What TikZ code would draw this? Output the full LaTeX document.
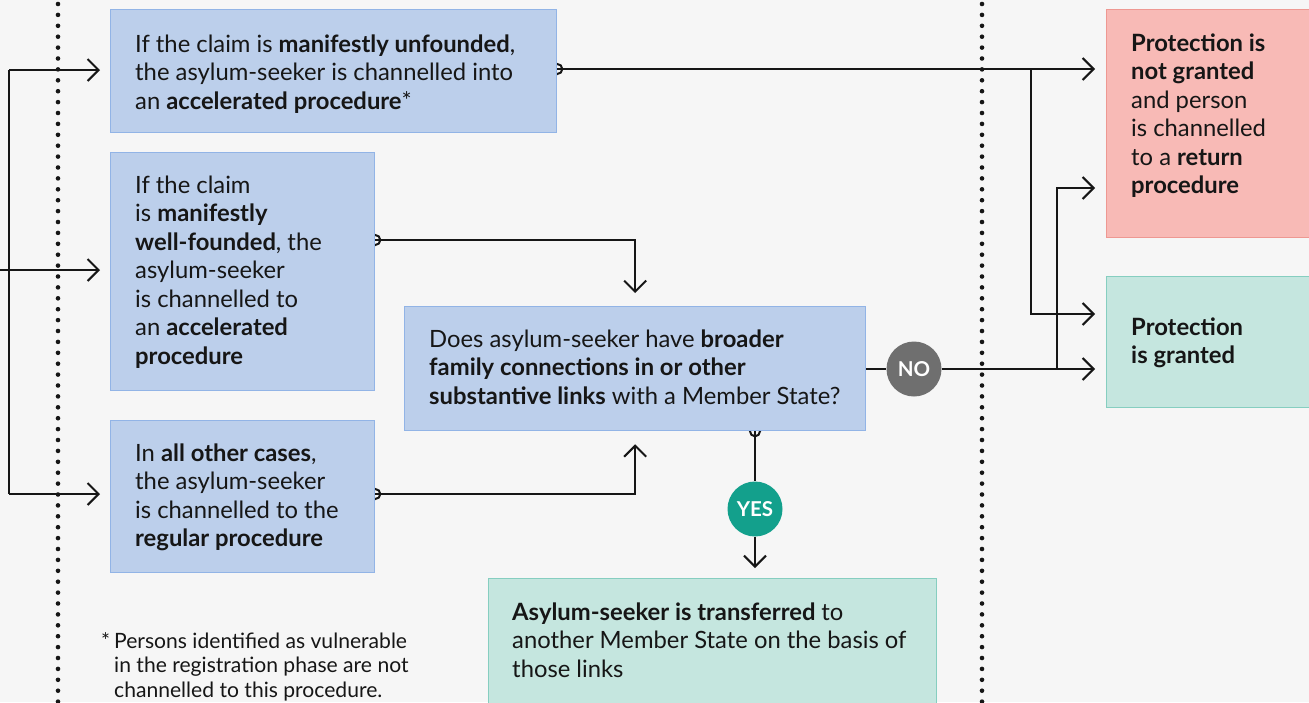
\documentclass[tikz,border=0pt]{standalone}
\usepackage{fontspec}
\setmainfont{Lato}
\usetikzlibrary{arrows.meta,calc}
\definecolor{bgc}{HTML}{F6F6F6}
\definecolor{ink}{HTML}{161616}
\definecolor{bluefill}{HTML}{BCCFEB}
\definecolor{blueline}{HTML}{92B4E6}
\definecolor{greenfill}{HTML}{C5E6DF}
\definecolor{greenline}{HTML}{86CEC0}
\definecolor{pinkfill}{HTML}{F8BAB6}
\definecolor{pinkline}{HTML}{EE9892}
\definecolor{nogray}{HTML}{6F6F6F}
\definecolor{yesteal}{HTML}{13A08C}
\pgfdeclarelayer{back}
\pgfdeclarelayer{under}
\pgfsetlayers{back,under,main}
\newcommand\ML[1]{\vtop{\baselineskip=28.5pt\lineskiplimit=-30pt\lineskip=0pt #1}}
\newcommand\MLs[1]{\vtop{\baselineskip=24.5pt\lineskiplimit=-30pt\lineskip=0pt #1}}
\tikzset{
  boxbase/.style={anchor=north west, inner sep=0pt, line width=1.3pt},
  bluebox/.style={boxbase, draw=blueline, fill=bluefill},
  greenbox/.style={boxbase, draw=greenline, fill=greenfill},
  pinkbox/.style={boxbase, draw=pinkline, fill=pinkfill},
  txt/.style={anchor=base west, inner sep=0pt, text=ink, font=\fontsize{23.8}{28.5}\selectfont},
  smalltxt/.style={anchor=base west, inner sep=0pt, text=ink, font=\fontsize{21.1}{24.5}\selectfont},
  conn/.style={line width=2pt, draw=ink},
  arr/.style={conn, -{Straight Barb[length=11pt,width=22pt]}},
  badge/.style={circle, minimum size=55pt, inner sep=0pt, text=white, font=\bfseries\fontsize{20.5}{20.5}\selectfont},
  dotline/.style={line width=4.6pt, draw=ink, dash pattern=on 0pt off 10.9pt, line cap=round},
}
\begin{document}
\begin{tikzpicture}[x=1pt,y=-1pt]
\useasboundingbox (0,0) rectangle (1309,702);
\clip (0,0) rectangle (1309,702);
\begin{pgfonlayer}{back}
\fill[bgc] (0,0) rectangle (1309,702);
\end{pgfonlayer}
% dotted separators
\coordinate (d1t) at (58,4);
\coordinate (d1b) at (58,702);
\coordinate (d2t) at (982,4);
\coordinate (d2b) at (982,702);
\draw[dotline] (d1t) -- (d1b);
\draw[dotline] (d2t) -- (d2b);
% boxes
\node[bluebox, minimum width=446pt, minimum height=123pt] (A) at (110,9) {};
\node[bluebox, minimum width=264pt, minimum height=238pt] (B) at (110,152) {};
\node[bluebox, minimum width=264pt, minimum height=152pt] (C) at (110,420) {};
\node[bluebox, minimum width=461pt, minimum height=124pt] (D) at (404,306) {};
\node[greenbox, minimum width=448pt, minimum height=140pt] (E) at (488,578) {};
\node[pinkbox, minimum width=230pt, minimum height=228pt] (F) at (1106,9) {};
\node[greenbox, minimum width=230pt, minimum height=131pt] (G) at (1106,276) {};
% texts
\node[txt] (tA) at (135,52) {\ML{\hbox{If the claim is \textbf{manifestly unfounded},}\hbox{the asylum-seeker is channelled into}\hbox{an \textbf{accelerated procedure}*}}};
\node[txt] (tB) at (135,193) {\ML{\hbox{If the claim}\hbox{is \textbf{manifestly}}\hbox{\textbf{well-founded}, the}\hbox{asylum-seeker}\hbox{is channelled to}\hbox{an \textbf{accelerated}}\hbox{\textbf{procedure}}}};
\node[txt] (tC) at (135,461) {\ML{\hbox{In \textbf{all other cases},}\hbox{the asylum-seeker}\hbox{is channelled to the}\hbox{\textbf{regular procedure}}}};
\node[txt] (tD) at (429,347) {\ML{\hbox{Does asylum-seeker have \textbf{broader}}\hbox{\textbf{family connections in or other}}\hbox{\textbf{substantive links} with a Member State?}}};
\node[txt] (tE) at (512,620) {\ML{\hbox{\textbf{Asylum-seeker is transferred} to}\hbox{another Member State on the basis of}\hbox{those links}}};
\node[txt] (tF) at (1131,51) {\ML{\hbox{\textbf{Protection is}}\hbox{\textbf{not granted}}\hbox{and person}\hbox{is channelled}\hbox{to a \textbf{return}}\hbox{\textbf{procedure}}}};
\node[txt] (tG) at (1131,335) {\ML{\hbox{\textbf{Protection}}\hbox{\textbf{is granted}}}};
\node[smalltxt] (fn) at (114,648) {\MLs{\hbox{\llap{*\hspace{4pt}}Persons identified as vulnerable}\hbox{in the registration phase are not}\hbox{channelled to this procedure.}}};
% tails (half circles at box edges)
\begin{pgfonlayer}{under}
\draw[conn] (A.east |- 0,69) circle[radius=5pt];
\draw[conn] (B.east |- 0,240) circle[radius=5pt];
\draw[conn] (C.east |- 0,494) circle[radius=5pt];
\draw[conn] (D.south -| 755,0) circle[radius=5pt];
\end{pgfonlayer}
% left input
\coordinate (in) at (0,270);
\coordinate (j1) at (9,70);
\coordinate (j2) at (9,494);
\draw[arr, shorten >=10pt] (in) -- (B.west |- in);
\draw[conn] (j1) -- (j2);
\draw[arr, shorten >=10pt] (j1) -- (A.west |- j1);
\draw[arr, shorten >=10pt] (j2) -- (C.west |- j2);
% A to F and branch to G
\coordinate (aout) at (A.east |- 0,69);
\coordinate (br1) at (1031,69);
\draw[arr, shorten >=11pt] (aout) -- (F.west |- aout);
\draw[arr, shorten >=11pt] (br1) |- (G.west |- 0,314);
% B and C to D
\draw[arr, shorten >=13pt] (B.east |- 0,240) -| (D.north);
\draw[arr, shorten >=13pt] (C.east |- 0,494) -| (D.south);
% D -> NO -> G, branch to F
\node[badge, fill=nogray] (no) at (914,369) {NO};
\draw[conn] (D.east |- no) -- (no);
\draw[arr, shorten >=11pt] (no) -- (G.west |- no);
\coordinate (br2) at (1057,369);
\draw[arr, shorten >=11pt] (br2) |- (F.west |- 0,188);
% D -> YES -> E
\node[badge, fill=yesteal] (yes) at (755,509) {YES};
\coordinate (dout) at (D.south -| yes);
\draw[conn] (dout) -- (yes);
\draw[arr, shorten >=10pt] (yes) -- (E.north -| yes);
\end{tikzpicture}
\end{document}
